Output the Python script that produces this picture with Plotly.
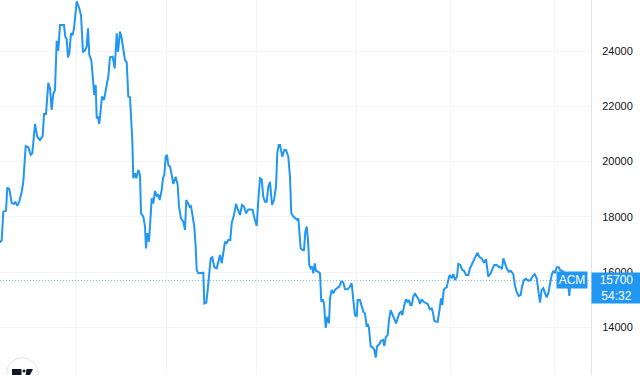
import plotly.graph_objects as go

# bar positions (time index) and close prices
bar = [0, 1.7, 3.3, 6, 7.3, 9.3, 11.7, 14, 15.3, 17.3, 19.3, 21.7, 23.3, 25.7, 28.3, 30.7, 32.3, 35, 37.3, 40,
       42.7, 44, 46, 48.3, 50, 51.7, 53.3, 55, 56.7, 58.3, 60, 64, 65.3, 66.7, 68, 69.3, 71, 72.7, 74, 76.7,
       79.3, 81, 83, 85.3, 86.7, 88, 89.3, 91.3, 93.3, 94.3, 95.7, 96.7, 98, 99.3, 102, 104, 106.7, 108.3, 110, 112.7,
       114.7, 116.7, 118, 120, 121.3, 123.3, 125, 126.7, 128.3, 130, 132.3, 133.3, 135, 136.3, 138.3, 140, 141, 143.3, 145, 146,
       147.3, 149, 150.3, 151.7, 153.3, 155, 156.7, 158.3, 159.7, 161.7, 163, 164.3, 165.7, 167, 168.3, 170, 171.7, 173.3, 175.7, 177.7,
       179, 181, 183.3, 185, 186.3, 188.3, 189.7, 191, 192.3, 194.3, 195.7, 196.7, 198.3, 201, 203.3, 204.3, 206.3, 207.7, 209.3, 210.7,
       212.3, 214.3, 216.7, 218.3, 220, 221.7, 223.3, 225, 226.7, 228.3, 230.3, 231.7, 234, 236, 238, 240, 242, 244, 246, 248.3,
       250.7, 252.7, 254, 256.7, 258.3, 260, 261.7, 263.3, 265, 266.7, 268.3, 270, 272, 274, 276, 277.3, 278.7, 280, 282.3, 284.3,
       286, 288.3, 290, 291.3, 293.3, 295.7, 297.3, 298.3, 299.3, 300.7, 302.7, 304, 305.3, 306.7, 308, 309.3, 310.7, 312, 313.3, 314.7,
       316, 318, 320, 321.3, 322.7, 324, 325.7, 327.3, 329, 330, 331.7, 333.3, 335.3, 337.3, 339.3, 341.3, 343.3, 345, 347.7, 350,
       351.7, 353.3, 355, 356.7, 357.7, 360, 361.7, 363.3, 365, 366.7, 367.7, 369, 370.7, 372.7, 374.3, 375.7, 377, 379.3, 381, 383,
       384.3, 385.7, 387.7, 389, 390.7, 392.3, 394.3, 396, 397.7, 399.3, 401, 402.3, 404.3, 406, 407.7, 409, 410.3, 411.7, 413.3, 415,
       416.7, 418.3, 420, 421.7, 423.7, 425.7, 427.7, 429.7, 431.7, 433, 434.3, 436.3, 437.7, 439, 441, 442.3, 443.7, 445, 446.7, 448.3,
       449.7, 451.7, 453.3, 455, 457, 458.3, 460.3, 462.3, 464, 466, 468.3, 470, 472.7, 475, 477.3, 479.3, 481.7, 484, 486, 488.3,
       490.7, 492.7, 494.3, 496.7, 499, 500.7, 502, 503.3, 504.7, 506.7, 508.7, 510.7, 513.3, 515, 516.7, 518.7, 520.7, 522, 524, 526,
       528.3, 530.7, 532.7, 534.7, 536.7, 538.7, 540, 541.7, 543.3, 545, 546.7, 548.3, 550, 551.7, 553.3, 555, 556.7, 558.7, 560, 561.7,
       563.3, 566, 568, 569.3, 570.5]

close = [17070, 17160, 18190, 18220, 19060, 19010, 18500, 18470, 18550, 18400, 18550, 18910, 19270, 20560, 20520, 20240, 20300, 21360, 20900, 20780,
         20930, 21720, 21720, 22850, 22650, 21870, 22450, 22590, 24370, 24010, 24940, 24940, 24520, 24420, 23770, 23920, 24640, 24580, 24820, 25800,
         25540, 25300, 23950, 24040, 24160, 24820, 23860, 23670, 22830, 22410, 22770, 21570, 21600, 21360, 22350, 22230, 22770, 23070, 23770, 23790,
         23370, 24640, 23970, 24700, 24540, 24040, 23670, 23600, 22350, 22330, 20780, 19400, 19580, 19400, 19700, 19520, 18130, 18010, 17650, 16860,
         17410, 17100, 17710, 18670, 18490, 18940, 18760, 18790, 18610, 18970, 19400, 19520, 20180, 20240, 19880, 19820, 19520, 19190, 19450, 19150,
         18370, 17950, 17830, 17530, 18610, 18430, 18370, 18390, 18130, 17650, 16920, 16080, 15960, 15960, 15980, 14870, 14900, 15360, 15960, 16500,
         16540, 16180, 16140, 16340, 16620, 16320, 16680, 17100, 17050, 17160, 17160, 17770, 18070, 18470, 18250, 18070, 18430, 18370, 18130, 18270,
         18270, 18250, 18010, 17670, 18610, 19400, 19360, 18730, 18550, 18550, 19090, 19270, 18430, 18610, 19090, 20300, 20600, 20600, 20180, 20420,
         20420, 20180, 19450, 18130, 18010, 17920, 17890, 17950, 17410, 16860, 16800, 16800, 17460, 17650, 17160, 16260, 16140, 16200, 15960, 16320,
         16050, 16020, 15960, 14930, 15020, 14870, 13990, 14390, 14150, 15050, 15360, 15240, 15380, 15420, 15480, 15660, 15630, 15390, 15380, 15480,
         15600, 14990, 14450, 14390, 14990, 14990, 14810, 14570, 14510, 14030, 14130, 13970, 13310, 13280, 13190, 12910, 13310, 13400, 13520, 13550,
         13330, 13640, 13730, 14270, 14630, 14510, 14300, 14150, 14390, 14510, 14570, 14450, 14810, 15020, 14930, 14990, 14810, 14810, 15110, 15240,
         15110, 15050, 14850, 15020, 14930, 14900, 14850, 14660, 14690, 14530, 14240, 14210, 14210, 14510, 15050, 14810, 15360, 15420, 15450, 15720,
         15900, 15780, 15930, 15720, 15840, 16300, 16260, 16080, 16050, 15900, 15900, 16140, 16340, 16560, 16700, 16560, 16500, 16340, 16470, 15840,
         15960, 16140, 16260, 16260, 16180, 16180, 16110, 16500, 16320, 16140, 16020, 16050, 15930, 15500, 15290, 15140, 15170, 15480, 15720, 15760,
         15690, 15720, 15860, 15930, 15780, 15110, 14900, 15360, 15420, 15240, 15090, 15240, 15660, 15900, 16050, 15960, 16180, 16180, 16080, 16050,
         16020, 15860, 15640, 15140, 15700]

grid_bars = [76, 166, 256, 356, 450, 554]
y_ticks = [14000, 16000, 18000, 20000, 22000, 24000]
symbol = "ACM"
last_price = 15700
countdown = "54:32"

BLUE = "#2196f3"
TXT = "#131722"

fig = go.Figure()
fig.add_trace(go.Scatter(x=bar, y=close, mode="lines",
                         line=dict(color=BLUE, width=2), hoverinfo="skip"))

W, H = 640, 375
PW = 591

fig.update_layout(
    width=W, height=H,
    margin=dict(l=0, r=W - PW, t=0, b=0),
    paper_bgcolor="white", plot_bgcolor="white",
    showlegend=False,
    font=dict(family="Liberation Sans, Arial, sans-serif", size=11, color=TXT),
    xaxis=dict(range=[0, PW], tickvals=grid_bars, showticklabels=False,
               showgrid=True, gridcolor="#f2f4f9", gridwidth=1, zeroline=False,
               showline=False, fixedrange=True),
    yaxis=dict(range=[12281, 25845], side="right", tickvals=y_ticks,
               ticktext=[str(v) for v in y_ticks],
               showgrid=True, gridcolor="#f2f4f9", gridwidth=1, zeroline=False,
               showline=True, linecolor="#e0e3eb", linewidth=1,
               ticks="", ticklabelstandoff=8,
               tickfont=dict(size=11, color=TXT), fixedrange=True),
)

# last price dotted line
fig.add_shape(type="line", xref="paper", x0=0, x1=1, yref="y", y0=last_price, y1=last_price,
              line=dict(color=BLUE, width=1, dash="1px,2px"), opacity=0.6)

# price label on axis
fig.add_annotation(xref="paper", x=1, xanchor="left", yref="y", y=last_price, yanchor="top",
                   yshift=8, text=f"{last_price}<br>{countdown}", showarrow=False,
                   bgcolor=BLUE, width=49, height=30, borderpad=0, align="center",
                   font=dict(color="white", size=12, family="Liberation Sans, Arial, sans-serif"))

# symbol label
fig.add_annotation(xref="paper", x=1, xanchor="right", xshift=-3, yref="y", y=last_price,
                   yanchor="middle", text=symbol, showarrow=False, bgcolor=BLUE,
                   width=30, height=16, borderpad=0,
                   font=dict(color="white", size=12, family="Liberation Sans, Arial, sans-serif"))

# TradingView-style logo in bottom-left
def px(x):
    return x / PW

def py(y):
    return 1 - y / H

fig.add_shape(type="circle", xref="paper", yref="paper",
              x0=px(6.5), x1=px(38), y0=py(389), y1=py(357.7),
              fillcolor="white", line=dict(color="#e0e3eb", width=1), layer="above")
fig.add_shape(type="rect", xref="paper", yref="paper",
              x0=px(12), x1=px(21.5), y0=py(376), y1=py(369),
              fillcolor=TXT, line=dict(width=0), layer="above")
fig.add_shape(type="circle", xref="paper", yref="paper",
              x0=px(22.5), x1=px(25.5), y0=py(372.5), y1=py(369.5),
              fillcolor=TXT, line=dict(width=0), layer="above")
fig.add_shape(type="path", xref="paper", yref="paper",
              path=f"M {px(26.5)},{py(369)} L {px(33)},{py(369)} L {px(29.5)},{py(376)} L {px(25.5)},{py(376)} Z",
              fillcolor=TXT, line=dict(width=0), layer="above")

fig.write_html("out.html", config={"displayModeBar": False})
